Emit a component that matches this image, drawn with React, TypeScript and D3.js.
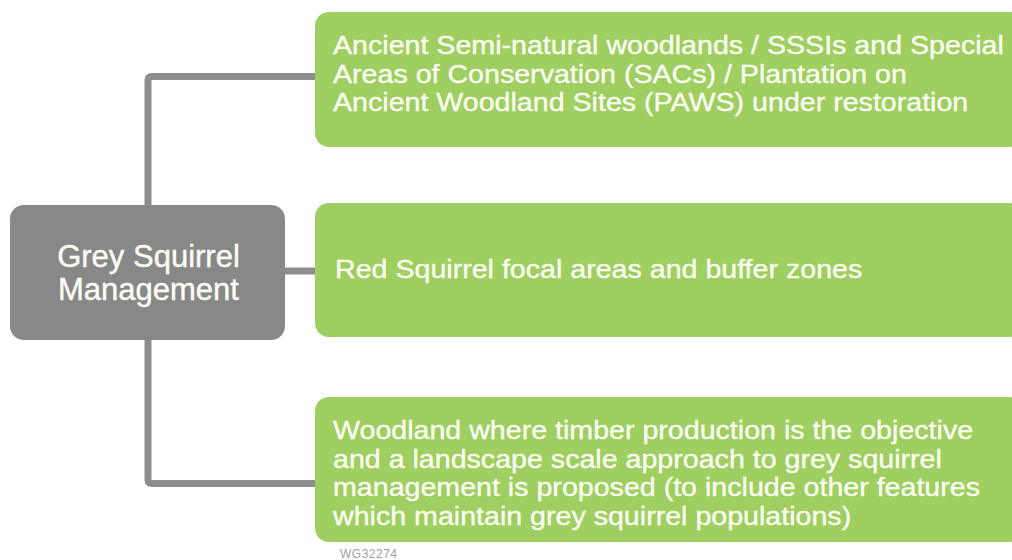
import React from 'react';
import * as d3 from 'd3';

// Diagram content
const rootLabel = ['Grey Squirrel', 'Management'];
const branchLabels: string[][] = [
  [
    'Ancient Semi-natural woodlands / SSSIs and Special',
    'Areas of Conservation (SACs) / Plantation on',
    'Ancient Woodland Sites (PAWS) under restoration',
  ],
  ['Red Squirrel focal areas and buffer zones'],
  [
    'Woodland where timber production is the objective',
    'and a landscape scale approach to grey squirrel',
    'management is proposed (to include other features',
    'which maintain grey squirrel populations)',
  ],
];
const figureRef = 'WG32274';

// layout
const W = 1012;
const H = 560;
const branchTops = [12, 203, 397];
const branchBottoms = [147, 337, 542];
const branchAnchors = [76.5, 271, 483.5];
const GREEN = '#9ecf60';
const GREY = '#888888';
const LINE = '#8d8d8d';
const TEXT = '#fbfdf3';
const FONT = '"Liberation Sans", Arial, sans-serif';

const App: React.FC = () => {
  const root = { x0: 10, x1: 285, y0: 205, y1: 340 };
  const spineX = 148;
  const boxX = 315;
  const lineH = 28.5;

  // connector: elbows from the spine out to the top and bottom boxes, straight to the middle one
  const p = d3.path();
  const r = 4;
  p.moveTo(boxX + 4, branchAnchors[0]);
  p.lineTo(spineX + r, branchAnchors[0]);
  p.quadraticCurveTo(spineX, branchAnchors[0], spineX, branchAnchors[0] + r);
  p.lineTo(spineX, root.y0 + 2);
  p.moveTo(spineX, root.y1 - 2);
  p.lineTo(spineX, branchAnchors[2] - r);
  p.quadraticCurveTo(spineX, branchAnchors[2], spineX + r, branchAnchors[2]);
  p.lineTo(boxX + 4, branchAnchors[2]);
  p.moveTo(root.x1 - 2, branchAnchors[1]);
  p.lineTo(boxX + 4, branchAnchors[1]);

  const rootCy = (root.y0 + root.y1) / 2;

  return (
    <svg width={W} height={H} style={{ position: 'absolute', left: 0, top: 0 }}>
      <rect width={W} height={H} fill="#fff" />
      <path d={p.toString()} fill="none" stroke={LINE} strokeWidth={7} />

      <rect x={root.x0} y={root.y0} width={root.x1 - root.x0} height={root.y1 - root.y0} rx={14} fill={GREY} />
      {rootLabel.map((t, i) => (
        <text
          key={t}
          x={(root.x0 + root.x1) / 2 + 1}
          y={rootCy + (i - (rootLabel.length - 1) / 2) * 33 + 11}
          textAnchor="middle"
          fill={TEXT}
          stroke={TEXT}
          strokeWidth={0.4}
          fontFamily={FONT}
          fontSize={31}
        >
          {t}
        </text>
      ))}

      {branchLabels.map((lines, i) => {
        const top = branchTops[i];
        const bottom = branchBottoms[i];
        const cy = (top + bottom) / 2;
        return (
          <g key={i}>
            <rect x={boxX} y={top} width={W - boxX + 12} height={bottom - top} rx={14} fill={GREEN} />
            {lines.map((t, j) => {
              const tx = i === 1 ? boxX + 20 : boxX + 18;
              const ty = lines.length > 1 ? top + 42 + j * lineH : cy + 8;
              return (
                <text
                  key={j}
                  transform={`translate(${tx},${ty}) scale(1.1,1)`}
                  fill={TEXT}
                  stroke={TEXT}
                  strokeWidth={0.35}
                  fontFamily={FONT}
                  fontSize={26}
                >
                  {t}
                </text>
              );
            })}
          </g>
        );
      })}

      <text x={340} y={558} fill="#a0a0a0" fontFamily={FONT} fontSize={12} letterSpacing={0.5}>
        {figureRef}
      </text>
    </svg>
  );
};

export default App;
